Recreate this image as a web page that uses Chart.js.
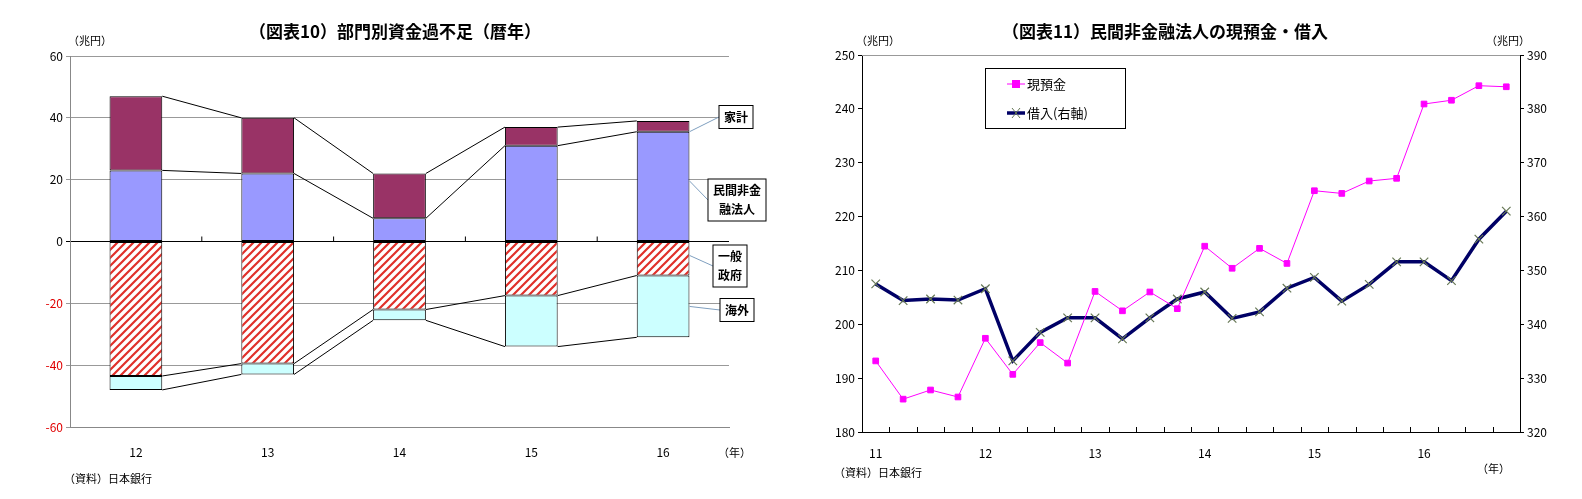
<!DOCTYPE html>
<html><head><meta charset="utf-8">
<script src="https://cdn.jsdelivr.net/npm/chart.js@4"></script>
<style>
body{margin:0;background:#fff;font-family:"Noto Sans CJK JP",sans-serif;}
.wrap{position:absolute;top:0;width:791px;height:499px;}
.t{position:absolute;font-size:11px;color:#000;white-space:nowrap;}
.h{position:absolute;font-size:17px;font-weight:bold;white-space:nowrap;transform:translateX(-50%);}
</style></head><body>
<div class="wrap" style="left:0"><canvas id="c1"></canvas></div>
<div class="wrap" style="left:791px"><canvas id="c2"></canvas></div>
<div class="h" style="left:395px;top:18px">（図表10）部門別資金過不足（暦年）</div>
<div class="t" style="left:68px;top:32px">（兆円）</div>
<div class="t" style="left:718px;top:444px">（年）</div>
<div class="t" style="left:64px;top:470px">（資料）日本銀行</div>
<div class="h" style="left:1165px;top:18px">（図表11）民間非金融法人の現預金・借入</div>
<div class="t" style="left:856px;top:32px">（兆円）</div>
<div class="t" style="left:1486px;top:32px">（兆円）</div>
<div class="t" style="left:1477px;top:460px">（年）</div>
<div class="t" style="left:834px;top:464px">（資料）日本銀行</div>
<script>
// ---- 図表10 data ----
const years = ['12', '13', '14', '15', '16'];
const corp = [23, 22, 7.5, 31, 35.5];        // 民間非金融法人
const household = [24, 18, 14.5, 6, 3.5];    // 家計
const govt = [-43.5, -39.5, -22, -17.5, -11]; // 一般政府
const overseas = [-4.5, -3.5, -3.5, -16.5, -20]; // 海外
const yTicks10 = [-60, -40, -20, 0, 20, 40, 60];

// ---- 図表11 data ----
const quarters = ['11','','','','12','','','','13','','','','14','','','','15','','','','16','','',''];
const cash = [193.2, 186.1, 187.8, 186.5, 197.4, 190.7, 196.6, 192.8, 206.1, 202.5, 206.0, 202.9,
              214.5, 210.4, 214.1, 211.3, 224.8, 224.3, 226.6, 227.1, 240.9, 241.6, 244.3, 244.1];
const borrow = [347.5, 344.4, 344.7, 344.5, 346.6, 333.2, 338.5, 341.2, 341.2, 337.3, 341.2, 344.7,
                346.0, 341.1, 342.3, 346.7, 348.7, 344.3, 347.4, 351.6, 351.6, 348.1, 355.8, 361.0];

const FONT = '"Noto Sans CJK JP", sans-serif';
Chart.defaults.font.family = FONT;
Chart.defaults.font.size = 11;
Chart.defaults.color = '#000';
Chart.defaults.animation = false;

function hatch() {
    const p = document.createElement('canvas');
    p.width = 8; p.height = 8;
    const g = p.getContext('2d');
    g.fillStyle = '#fff'; g.fillRect(0, 0, 8, 8);
    g.strokeStyle = '#e0302a'; g.lineWidth = 2.2;
    g.beginPath();
    g.moveTo(-2, 10); g.lineTo(10, -2);
    g.moveTo(-2, 2); g.lineTo(2, -2);
    g.moveTo(6, 10); g.lineTo(10, 6);
    g.stroke();
    return g.createPattern(p, 'repeat');
}

const connectors = {
    id: 'connectors',
    afterDatasetsDraw(chart) {
        const ctx = chart.ctx;
        ctx.save();
        ctx.strokeStyle = '#000'; ctx.lineWidth = 1;
        chart.data.datasets.forEach((ds, i) => {
            const bars = chart.getDatasetMeta(i).data;
            for (let j = 0; j < bars.length - 1; j++) {
                const a = bars[j], b = bars[j + 1];
                ctx.beginPath();
                ctx.moveTo(a.x + a.width / 2, a.y);
                ctx.lineTo(b.x - b.width / 2, b.y);
                ctx.stroke();
            }
        });
        // ticks on zero line between categories
        const x = chart.scales.x, y0 = chart.scales.y.getPixelForValue(0);
        for (let j = 1; j < years.length; j++) {
            const px = (x.getPixelForValue(j - 1) + x.getPixelForValue(j)) / 2;
            ctx.beginPath(); ctx.moveTo(px, y0); ctx.lineTo(px, y0 - 5); ctx.stroke();
        }
        // series labels
        const last = years.length - 1;
        const labels = [
            [['家計'], 736, 117, 0, 1],
            [['民間非金', '融法人'], 737, 200, 0, 0.55],
            [['一般', '政府'], 730, 266, 2, 0.4],
            [['海外'], 737, 310, 3, 0.5],
        ];
        ctx.font = 'bold 12px ' + FONT;
        ctx.textAlign = 'center'; ctx.textBaseline = 'middle';
        labels.forEach(([lines, cx, cy, di, frac]) => {
            const bar = chart.getDatasetMeta(di).data[last];
            const w = Math.max(...lines.map(l => ctx.measureText(l).width)) + 10;
            const h = lines.length * 19 + 4;
            const by = bar.base + (bar.y - bar.base) * frac;
            ctx.strokeStyle = '#7f9fbf';
            ctx.beginPath(); ctx.moveTo(bar.x + bar.width / 2, di === 1 ? bar.y : by);
            ctx.lineTo(cx - w / 2, cy); ctx.stroke();
            ctx.fillStyle = '#fff'; ctx.fillRect(cx - w / 2, cy - h / 2, w, h);
            ctx.strokeStyle = '#000'; ctx.strokeRect(cx - w / 2, cy - h / 2, w, h);
            ctx.fillStyle = '#000';
            lines.forEach((l, k) => ctx.fillText(l, cx, cy - (lines.length - 1) * 9.5 + k * 19));
        });
        ctx.restore();
    }
};

new Chart(document.getElementById('c1'), {
    type: 'bar',
    data: {
        labels: years,
        datasets: [
            { label: '民間非金融法人', data: corp, backgroundColor: '#9999ff' },
            { label: '家計', data: household, backgroundColor: '#993366' },
            { label: '一般政府', data: govt, backgroundColor: hatch() },
            { label: '海外', data: overseas, backgroundColor: '#ccffff' },
        ].map(d => Object.assign(d, { borderColor: '#000', borderWidth: 1, borderSkipped: false,
                                     barPercentage: 0.4, categoryPercentage: 1 })),
    },
    options: {
        responsive: true, maintainAspectRatio: false,
        layout: { padding: { top: 56, right: 62, left: 0, bottom: 0 } },
        plugins: { legend: { display: false }, tooltip: { enabled: false } },
        scales: {
            x: {
                stacked: true,
                grid: { display: false },
                border: { color: '#888' },
                ticks: { padding: 10, font: { size: 12 } },
                afterFit: s => { s.height = 72; },
            },
            y: {
                stacked: true, min: -60, max: 60,
                afterBuildTicks: s => { s.ticks = yTicks10.map(v => ({ value: v })); },
                afterFit: s => { s.width = 70; },
                grid: { color: c => c.tick.value === 0 ? '#000' : '#999', tickLength: 4 },
                border: { color: '#888' },
                ticks: { color: c => c.tick.value < 0 ? '#e00000' : '#000', font: { size: 12 } },
            },
        },
    },
    plugins: [connectors],
});

const extras11 = {
    id: 'extras11',
    afterDraw(chart) {
        const ctx = chart.ctx, x = chart.scales.x, a = chart.chartArea;
        ctx.save();
        ctx.strokeStyle = '#000'; ctx.lineWidth = 1;
        for (let j = 1; j < quarters.length; j++) {
            const px = Math.round((x.getPixelForValue(j - 1) + x.getPixelForValue(j)) / 2) + 0.5;
            ctx.beginPath(); ctx.moveTo(px, a.bottom); ctx.lineTo(px, a.bottom - 5); ctx.stroke();
        }
        // legend box
        const lx = 985 - 791, ly = 68;
        ctx.fillStyle = '#fff'; ctx.fillRect(lx, ly, 140, 60);
        ctx.strokeRect(lx + 0.5, ly + 0.5, 140, 60);
        ctx.font = '13px ' + FONT; ctx.textBaseline = 'middle'; ctx.fillStyle = '#000';
        ctx.strokeStyle = '#ff00ff';
        ctx.beginPath(); ctx.moveTo(lx + 22, ly + 16); ctx.lineTo(lx + 40, ly + 16); ctx.stroke();
        ctx.fillStyle = '#ff00ff'; ctx.fillRect(lx + 27, ly + 12, 8, 8);
        ctx.fillStyle = '#000'; ctx.fillText('現預金', lx + 42, ly + 16);
        ctx.strokeStyle = '#000066'; ctx.lineWidth = 3.5;
        ctx.beginPath(); ctx.moveTo(lx + 22, ly + 45); ctx.lineTo(lx + 40, ly + 45); ctx.stroke();
        ctx.strokeStyle = '#667755'; ctx.lineWidth = 1;
        ctx.beginPath();
        ctx.moveTo(lx + 27, ly + 40); ctx.lineTo(lx + 35, ly + 50);
        ctx.moveTo(lx + 35, ly + 40); ctx.lineTo(lx + 27, ly + 50); ctx.stroke();
        ctx.fillText('借入(右軸)', lx + 42, ly + 45);
        ctx.restore();
    }
};

new Chart(document.getElementById('c2'), {
    type: 'line',
    data: {
        labels: quarters,
        datasets: [
            { label: '現預金', data: cash, yAxisID: 'y', borderColor: '#ff00ff', borderWidth: 1,
              pointStyle: 'rect', pointRadius: 4, pointBackgroundColor: '#ff00ff', pointBorderColor: '#ff00ff' },
            { label: '借入(右軸)', data: borrow, yAxisID: 'y2', borderColor: '#000066', borderWidth: 3.5,
              pointStyle: 'crossRot', pointRadius: 6, pointBorderColor: '#667755', pointBorderWidth: 1.2 },
        ],
    },
    options: {
        responsive: true, maintainAspectRatio: false,
        layout: { padding: { top: 55, right: 0, left: 0, bottom: 0 } },
        plugins: { legend: { display: false }, tooltip: { enabled: false } },
        scales: {
            x: {
                offset: true,
                grid: { display: false },
                border: { color: '#000' },
                ticks: { autoSkip: false, maxRotation: 0, padding: 6, font: { size: 12 } },
                afterFit: s => { s.height = 67; },
            },
            y: {
                position: 'left', min: 180, max: 250,
                ticks: { stepSize: 10, font: { size: 12 } },
                grid: { drawOnChartArea: false, tickLength: 4, color: '#000' },
                border: { color: '#000' },
                afterFit: s => { s.width = 71; },
            },
            y2: {
                position: 'right', min: 320, max: 390,
                ticks: { stepSize: 10, font: { size: 12 } },
                grid: { drawOnChartArea: false, tickLength: 4, color: '#000' },
                border: { color: '#000' },
                afterFit: s => { s.width = 62; },
            },
        },
    },
    plugins: [extras11, {
        id: 'topBorder',
        beforeDatasetsDraw(chart) {
            const a = chart.chartArea, ctx = chart.ctx;
            ctx.save(); ctx.strokeStyle = '#999';
            ctx.beginPath(); ctx.moveTo(a.left, a.top + 0.5); ctx.lineTo(a.right, a.top + 0.5); ctx.stroke();
            ctx.restore();
        }
    }],
});
</script>
</body></html>
